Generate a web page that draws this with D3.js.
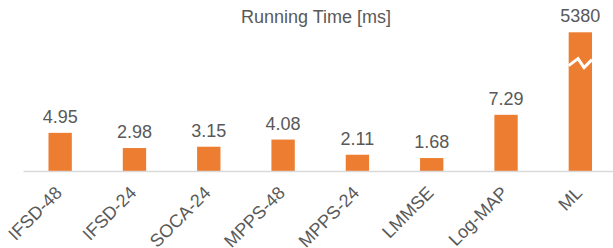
<!DOCTYPE html>
<html>
<head>
<meta charset="utf-8">
<script src="https://cdn.jsdelivr.net/npm/d3@7"></script>
<style>
  body { margin: 0; background: #fff; }
  text { font-family: "Liberation Sans", Arial, sans-serif; fill: #595959; }
</style>
</head>
<body>
<script>
// chart data
const methods = ["IFSD-48", "IFSD-24", "SOCA-24", "MPPS-48", "MPPS-24", "LMMSE", "Log-MAP", "ML"];
const times = [4.95, 2.98, 3.15, 4.08, 2.11, 1.68, 7.29, 5380];
const valueLabels = ["4.95", "2.98", "3.15", "4.08", "2.11", "1.68", "7.29", "5380"];
// bars taller than this are cut and drawn with a break mark
const breakCap = 18;
const breakMark = 14.2;

const width = 613, height = 248;
const baseY = 171;

const svg = d3.select("body").append("svg")
    .attr("width", width)
    .attr("height", height);

const x = d3.scaleBand()
    .domain(methods)
    .range([23, 617.5])
    .paddingInner(0.686)
    .paddingOuter(0.343);

const y = d3.scaleLinear()
    .domain([0, breakCap])
    .range([baseY, 32.3]);

// title
svg.append("text")
    .attr("x", 316)
    .attr("y", 23)
    .attr("text-anchor", "middle")
    .style("font-size", "18px")
    .text("Running Time [ms]");

// bars
svg.selectAll("rect.bar")
    .data(methods)
    .enter().append("rect")
    .attr("class", "bar")
    .attr("x", d => x(d))
    .attr("y", (d, i) => y(Math.min(times[i], breakCap)))
    .attr("width", x.bandwidth())
    .attr("height", (d, i) => baseY - y(Math.min(times[i], breakCap)))
    .attr("fill", "#ED7D31");

// break mark on the cut bar
methods.forEach((m, i) => {
    if (times[i] <= breakCap) return;
    const x0 = x(m), bw = x.bandwidth(), yb = y(breakMark);
    const pts = [[x0, yb + 4], [x0 + bw * 0.4, yb - 3], [x0 + bw * 0.66, yb + 6], [x0 + bw, yb - 2]];
    svg.append("path")
        .attr("d", d3.line()(pts))
        .attr("fill", "none")
        .attr("stroke", "#fff")
        .attr("stroke-width", 3);
});

// value labels
svg.selectAll("text.val")
    .data(methods)
    .enter().append("text")
    .attr("class", "val")
    .attr("x", d => x(d) + x.bandwidth() / 2)
    .attr("y", (d, i) => y(Math.min(times[i], breakCap)) - 10)
    .attr("text-anchor", "middle")
    .style("font-size", "18px")
    .text((d, i) => valueLabels[i]);

// x axis
const xAxis = svg.append("g")
    .attr("transform", "translate(0," + baseY + ")")
    .call(d3.axisBottom(x).tickSize(0).tickPadding(0));

xAxis.select(".domain")
    .attr("stroke", "#D9D9D9")
    .attr("stroke-width", 1.3);

xAxis.selectAll(".tick text")
    .attr("text-anchor", "end")
    .attr("dy", 0)
    .attr("transform", "translate(3,23) rotate(-45)")
    .style("font-size", "18px")
    .style("font-family", "'Liberation Sans', Arial, sans-serif")
    .attr("fill", "#595959");
</script>
</body>
</html>
